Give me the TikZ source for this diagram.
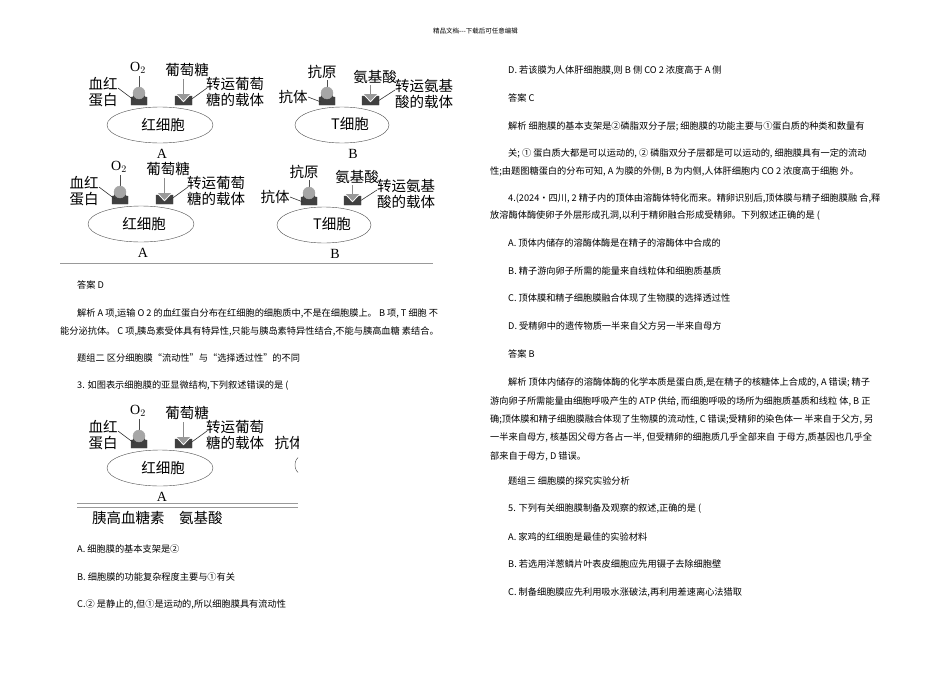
\documentclass[tikz,border=0pt]{standalone}
\usepackage{fontspec}
\setmainfont{Liberation Serif}
\newfontfamily\cjk{Noto Sans CJK SC}
\begin{document}
\begin{tikzpicture}[x=1pt,y=-1pt,
  body/.style={anchor=west,inner sep=0pt,font=\cjk\fontsize{9.2}{10}\selectfont},
  lab/.style={inner sep=0pt,font=\cjk\fontsize{14.5}{15.5}\selectfont},
  cup/.style={fill=black!75,draw=black!75},
  ball/.style={fill=black!35,draw=black!35},
  lead/.style={draw=black!80,line width=0.6pt}]
\useasboundingbox (0,0) rectangle (950,672);
\fill[white] (0,0) rectangle (950,672);
\newcommand\cellA[3]{%
\begin{scope}[shift={(#1,#2)}]
\draw[black!70] (160,125) ellipse[x radius=53,y radius=18];
\node[lab] (#3cell) at (163,125) {红细胞};
\node[lab,font=\fontsize{14}{15}\selectfont] (#3name) at (162,154) {A};
\node[lab,font=\fontsize{14}{15}\selectfont] (#3o) at (138,68) {O$_2$};
\draw[black!70] (139,76) -- (139,87);
\fill[cup] (131,97) -- (133,97) arc[start angle=180,end angle=360,radius=6] -- (147,97) -- (147,105) -- (131,105) -- cycle;
\fill[ball] (139,93) circle[radius=6];
\node[lab] (#3g) at (187,70) {葡萄糖};
\fill[cup] (175,96) -- (177,96) -- (183.5,103) -- (190,96) -- (192,96) -- (192,105) -- (175,105) -- cycle;
\draw[black!45,line width=1.2pt] (183.5,79) -- (183.5,95);
\fill[black!40] (177,94) -- (190,94) -- (183.5,101) -- cycle;
\node[lab,align=left] (#3h) at (103,92) {血红\\蛋白};
\draw[lead] (118,88) -- (134,100);
\node[lab,align=left] (#3t) at (235,92) {转运葡萄\\糖的载体};
\draw[lead] (207,88) -- (189,101);
\end{scope}}
\newcommand\cellB[3]{%
\begin{scope}[shift={(#1,#2)}]
\draw[black!70] (342,125) ellipse[x radius=47,y radius=18];
\node[lab] (#3cell) at (350,124) {T细胞};
\node[lab,font=\fontsize{14}{15}\selectfont] (#3name) at (353,154) {B};
\node[lab] (#3k) at (322,72) {抗原};
\draw[black!70] (327,80) -- (327,88);
\fill[cup] (319,97) -- (321,97) arc[start angle=180,end angle=360,radius=6] -- (335,97) -- (335,105) -- (319,105) -- cycle;
\fill[ball] (327,93) circle[radius=6];
\node[lab] (#3a) at (375,77) {氨基酸};
\fill[cup] (362,96) -- (364,96) -- (370.5,103) -- (377,96) -- (379,96) -- (379,105) -- (362,105) -- cycle;
\draw[black!45,line width=1.2pt] (370.5,85) -- (370.5,95);
\fill[black!40] (364,94) -- (377,94) -- (370.5,101) -- cycle;
\node[lab] (#3ab) at (293,97) {抗体};
\draw[lead] (308,97) -- (321,102);
\node[lab,align=left] (#3t) at (424,94) {转运氨基\\酸的载体};
\draw[lead] (395,90) -- (378,101);
\end{scope}}
\node[body,font=\cjk\fontsize{6.5}{7}\selectfont] (hdr) at (433,31) {精品文档---下载后可任意编辑};
\cellA{0}{0}{a1}
\cellB{0}{0}{b1}
\cellA{-19}{99}{a2}
\cellB{-18}{100}{b2}
\draw[black!40] (60,263) -- (433,263);
% fig 3
\begin{scope}
\clip (60,395) rectangle (298,510);
\cellA{0}{343}{a3}
\node[lab] (k3) at (289,443) {抗体};
\draw[black!70] (300,465) ellipse[x radius=5,y radius=8];
\end{scope}
\draw[black!40] (77,503) -- (298,503) (77,507) -- (298,507);
\node[lab,anchor=west] (g3) at (92,518) {胰高血糖素\hspace{1em}氨基酸};
% left column
\node[body] (l1) at (77,285) {答案 D};
\node[body] (l2) at (77,313) {解析 A 项,运输 O 2 的血红蛋白分布在红细胞的细胞质中,不是在细胞膜上。 B 项, T 细胞 不};
\node[body] (l3) at (60,331) {能分泌抗体。 C 项,胰岛素受体具有特异性,只能与胰岛素特异性结合,不能与胰高血糖 素结合。};
\node[body] (l4) at (77,358) {题组二 区分细胞膜“流动性”与“选择透过性”的不同};
\node[body] (l5) at (77,386) {3. 如图表示细胞膜的亚显微结构,下列叙述错误的是 (};
\node[body] (l6) at (77,549) {A. 细胞膜的基本支架是②};
\node[body] (l7) at (77,577) {B. 细胞膜的功能复杂程度主要与①有关};
\node[body] (l8) at (77,604) {C.② 是静止的,但①是运动的,所以细胞膜具有流动性};
% right column
\node[body] (r1) at (508,70) {D. 若该膜为人体肝细胞膜,则 B 侧 CO 2 浓度高于 A 侧};
\node[body] (r2) at (508,98) {答案 C};
\node[body] (r3) at (508,126) {解析 细胞膜的基本支架是②磷脂双分子层; 细胞膜的功能主要与①蛋白质的种类和数量有};
\node[body] (r4) at (508,153) {关; ① 蛋白质大都是可以运动的, ② 磷脂双分子层都是可以运动的, 细胞膜具有一定的流动};
\node[body] (r5) at (490,171) {性;由题图糖蛋白的分布可知, A 为膜的外侧, B 为内侧,人体肝细胞内 CO 2 浓度高于细胞 外。};
\node[body] (r6) at (508,199) {4.(2024·四川, 2 精子内的顶体由溶酶体特化而来。精卵识别后,顶体膜与精子细胞膜融 合,释};
\node[body] (r7) at (490,216) {放溶酶体酶使卵子外层形成孔洞,以利于精卵融合形成受精卵。下列叙述正确的是 (};
\node[body] (r8) at (508,243) {A. 顶体内储存的溶酶体酶是在精子的溶酶体中合成的};
\node[body] (r9) at (508,271) {B. 精子游向卵子所需的能量来自线粒体和细胞质基质};
\node[body] (r10) at (508,298) {C. 顶体膜和精子细胞膜融合体现了生物膜的选择透过性};
\node[body] (r11) at (508,326) {D. 受精卵中的遗传物质一半来自父方另一半来自母方};
\node[body] (r12) at (508,354) {答案 B};
\node[body] (r13) at (508,382) {解析 顶体内储存的溶酶体酶的化学本质是蛋白质,是在精子的核糖体上合成的, A 错误; 精子};
\node[body] (r14) at (490,401) {游向卵子所需能量由细胞呼吸产生的 ATP 供给, 而细胞呼吸的场所为细胞质基质和线粒 体, B 正};
\node[body] (r15) at (490,419) {确;顶体膜和精子细胞膜融合体现了生物膜的流动性, C 错误;受精卵的染色体一 半来自于父方, 另};
\node[body] (r16) at (490,437) {一半来自母方, 核基因父母方各占一半, 但受精卵的细胞质几乎全部来自 于母方,质基因也几乎全};
\node[body] (r17) at (490,456) {部来自于母方, D 错误。};
\node[body] (r18) at (508,481) {题组三 细胞膜的探究实验分析};
\node[body] (r19) at (508,509) {5. 下列有关细胞膜制备及观察的叙述,正确的是 (};
\node[body] (r20) at (508,537) {A. 家鸡的红细胞是最佳的实验材料};
\node[body] (r21) at (508,564) {B. 若选用洋葱鳞片叶表皮细胞应先用镊子去除细胞壁};
\node[body] (r22) at (508,592) {C. 制备细胞膜应先利用吸水涨破法,再利用差速离心法猎取};
\end{tikzpicture}
\end{document}
